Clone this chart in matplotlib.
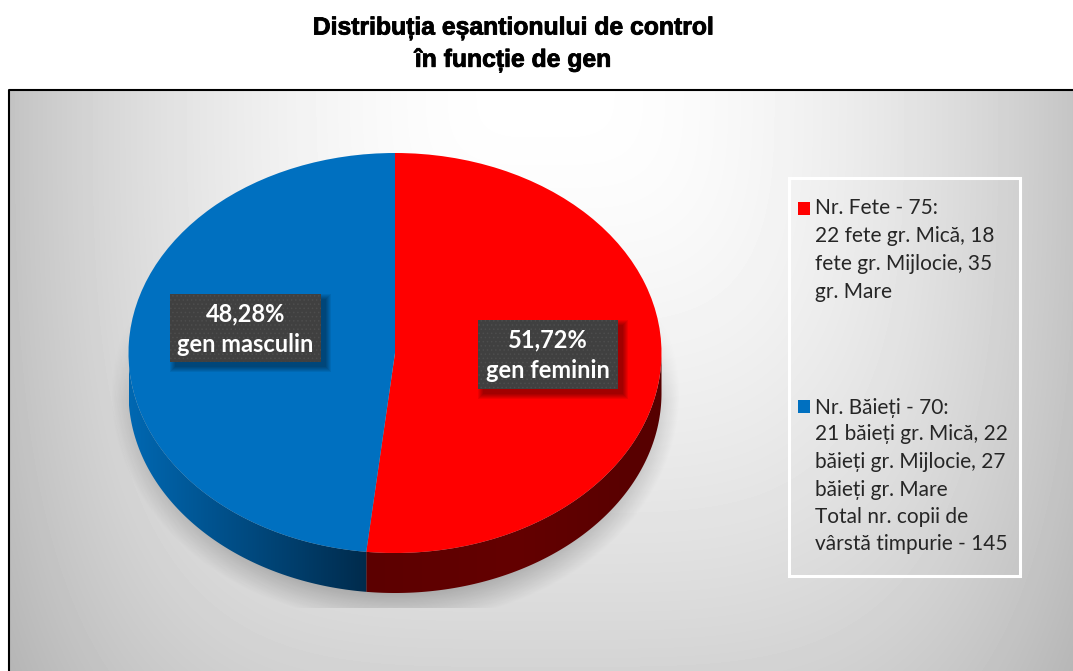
import numpy as np
import matplotlib
matplotlib.use("Agg")
import matplotlib.pyplot as plt
import matplotlib.patheffects as pe
from matplotlib.colors import LinearSegmentedColormap
from matplotlib.patches import Polygon, Rectangle

title_lines = ["Distribuția eșantionului de control", "în funcție de gen"]
shares = [51.72, 48.28]
colors = ["#ff0000", "#0070c0"]
box_labels = ["51,72%\ngen feminin", "48,28%\ngen masculin"]
legend_fete = ["Nr. Fete - 75:", "22 fete gr. Mică, 18", "fete gr. Mijlocie, 35", "gr. Mare"]
legend_baieti = ["Nr. Băieți - 70:", "21 băieți gr. Mică, 22", "băieți gr. Mijlocie, 27",
                 "băieți gr. Mare", "Total nr. copii de", "vârstă timpurie - 145"]

W, H = 1073, 671
CX, CY = 395, 353
RX, RY = 266.5, 200
DEPTH = 40 / RY

fig = plt.figure(figsize=(W / 100, H / 100), dpi=100, facecolor="white")
ax = fig.add_axes([0, 0, 1, 1])
ax.set_xlim(0, W)
ax.set_ylim(H, 0)
ax.axis("off")

# panel background, white at the top middle and grey towards the corners
xx, yy = np.meshgrid(np.arange(9, W), np.arange(90, H))
dx = np.abs(xx - 545) / 530
dy = (yy - 90) / 581
grey = 1 - np.sqrt((0.23 * dx ** 2) ** 2 + (0.17 * dy ** 1.5) ** 2)
ax.imshow(grey, extent=(9, W, H, 90), cmap="gray", vmin=0, vmax=1, aspect="auto", zorder=1)
ax.plot([9, 9, W], [H, 90, 90], color="black", lw=1.5, zorder=2)

# soft shadow under the pie, cut flat at the bottom
sx, sy = np.meshgrid(np.arange(100, 690), np.arange(300, 608))
e = np.sqrt(((sx - CX) / (RX + 18)) ** 2 + ((sy - CY - 40) / (RY + 30)) ** 2)
soft = np.clip((1 - e) / 0.13, 0, 1)
fade = np.clip((sy - 310) / 90, 0, 1)
rgba = np.zeros(sx.shape + (4,))
rgba[..., 3] = 0.22 * soft * fade
ax.imshow(rgba, extent=(100, 690, 608, 300), aspect="auto", zorder=3)
ax.set_xlim(0, W)
ax.set_ylim(H, 0)

# pie axes: one data unit is RX pixels across and RY pixels down
pie_ax = fig.add_axes([(CX - 1.25 * RX) / W, (H - CY - 1.5 * RY) / H, 2.5 * RX / W, 2.75 * RY / H])
pie_ax.patch.set_alpha(0)
wedges, _ = pie_ax.pie(shares, colors=colors, startangle=90, counterclock=False,
                       wedgeprops={"linewidth": 0})
pie_ax.set_aspect("auto")
for w in wedges:
    w.set_zorder(5)

side_cmaps = [LinearSegmentedColormap.from_list("r", ["#5c0000", "#640000", "#560000"]),
              LinearSegmentedColormap.from_list("b", ["#0068b2", "#004a80", "#002b4c"])]
for w, cmap in zip(wedges, side_cmaps):
    # the part of the rim that faces the viewer is the lower half of each slice
    t = np.radians(np.linspace(w.theta1, w.theta2, 400))
    t = t[np.sin(t) <= 0]
    px, py = np.cos(t), np.sin(t)
    rim = np.vstack([np.column_stack([px, py]), np.column_stack([px, py - DEPTH])[::-1]])
    patch = Polygon(rim, closed=True, fc="none", ec="none", transform=pie_ax.transData)
    pie_ax.add_patch(patch)
    x0, x1 = px.min(), px.max()
    im = pie_ax.imshow(np.linspace(0, 1, 256)[None, :], cmap=cmap, aspect="auto",
                       extent=(x0, x1, -1.5, 0), zorder=4)
    im.set_clip_path(patch)
pie_ax.set_xlim(-1.25, 1.25)
pie_ax.set_ylim(-1.5, 1.25)
pie_ax.set_aspect("auto")

# top layer for the labels and the legend
top = fig.add_axes([0, 0, 1, 1])
top.set_xlim(0, W)
top.set_ylim(H, 0)
top.axis("off")
top.patch.set_alpha(0)

plt.rcParams["hatch.linewidth"] = 0.6
for (x0, y0, x1, y1), label in zip([(478, 320, 618, 389), (170, 294, 321, 362)], box_labels):
    for grow in range(6):
        top.add_patch(Rectangle((x0 + 5 - grow, y0 + 5 - grow), x1 - x0 + 2 * grow, y1 - y0 + 2 * grow,
                                fc="black", ec="none", alpha=0.07, zorder=6))
    top.add_patch(Rectangle((x0, y0), x1 - x0, y1 - y0, fc="#404040", ec="#4d4d4d", lw=0,
                            hatch="....", zorder=7))
    top.text((x0 + x1) / 2, (y0 + y1) / 2 + 1, label, color="white", family="Lato", weight="bold",
             fontsize=17, ha="center", va="center", linespacing=1.42, zorder=8)

top.add_patch(Rectangle((789, 178), 231, 398, fc="none", ec="white", lw=2.2, zorder=6))
top.add_patch(Rectangle((798, 202), 12, 13, fc=colors[0], ec="none", zorder=6))
top.add_patch(Rectangle((798, 400), 12, 13, fc=colors[1], ec="none", zorder=6))
for line, y in zip(legend_fete, [208, 236, 264, 292]):
    top.text(815, y, line, family="Lato", fontsize=15, color="#262626", va="center", zorder=7)
for line, y in zip(legend_baieti, [408, 434, 462, 490, 517, 544]):
    top.text(815, y, line, family="Lato", fontsize=15, color="#262626", va="center", zorder=7)

for line, y in zip(title_lines, [28, 60]):
    top.text(513, y, line, family="Liberation Sans", weight="bold", fontsize=17.8, color="black",
             ha="center", va="center", zorder=7,
             path_effects=[pe.withStroke(linewidth=0.6, foreground="black")])

fig.savefig("out.png", dpi=100)
